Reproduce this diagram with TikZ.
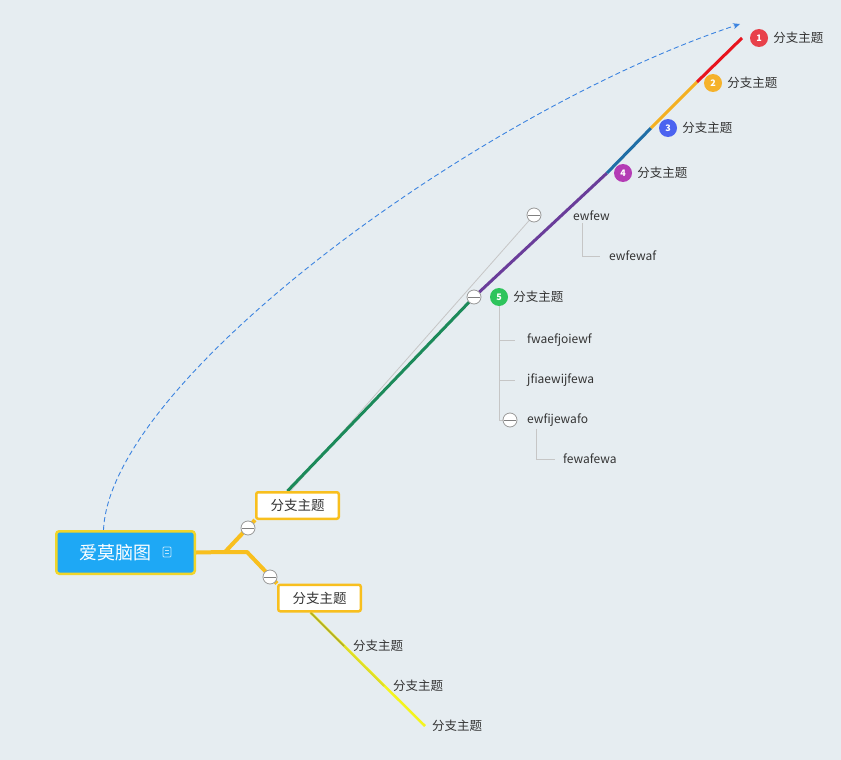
\documentclass[tikz,border=0pt]{standalone}
\usepackage{fontspec}
\setmainfont{Noto Sans CJK SC}
\usetikzlibrary{positioning,arrows.meta,backgrounds}
\definecolor{bgblue}{HTML}{E6EDF1}
\definecolor{rootfill}{HTML}{1EA8F5}
\definecolor{rootedge}{HTML}{F0D52A}
\definecolor{branchorange}{HTML}{F8BF1E}
\definecolor{textgray}{HTML}{333333}
\definecolor{linkblue}{HTML}{3C84E0}
\definecolor{badgered}{HTML}{E8414B}
\definecolor{badgeorange}{HTML}{F5B22B}
\definecolor{badgeblue}{HTML}{4B63F0}
\definecolor{badgepurple}{HTML}{B43CB5}
\definecolor{badgegreen}{HTML}{2EC45C}
\definecolor{spinered}{HTML}{E8141E}
\definecolor{spineorange}{HTML}{F4B021}
\definecolor{spineblue}{HTML}{1F6EA6}
\definecolor{spinepurple}{HTML}{6A3D9A}
\definecolor{spinegreen}{HTML}{1C8A5A}
\tikzset{
  rootbox/.style={rectangle, rounded corners=3pt, fill=rootfill, draw=rootedge, line width=2.5pt,
    text=white, minimum width=138.5pt, minimum height=42.5pt, inner sep=0pt,
    font=\fontsize{18}{18}\selectfont},
  topicbox/.style={rectangle, rounded corners=2pt, fill=white, draw=branchorange, line width=2.5pt,
    minimum width=82.5pt, minimum height=26.5pt, inner sep=0pt, text=textgray,
    font=\fontsize{13.5}{14}\selectfont},
  fold/.style={circle, draw=gray!80, fill=white, line width=0.8pt, minimum size=14pt, inner sep=0pt,
    path picture={\draw[gray, line width=0.8pt] ([xshift=-6pt]path picture bounding box.center)
      -- ([xshift=6pt]path picture bounding box.center);}},
  badge/.style={circle, fill=#1, text=white, minimum size=18pt, inner sep=0pt,
    font=\bfseries\fontsize{9}{9}\selectfont},
  leaf/.style={inner sep=2pt, text=textgray, font=\fontsize{12.5}{13}\selectfont},
  subleaf/.style={inner sep=2pt, text=textgray, font=\fontsize{12}{12}\selectfont},
  noteicon/.style={rectangle, draw=white!70!rootfill, line width=0.8pt, rounded corners=1pt,
    minimum width=8pt, minimum height=10pt, inner sep=0pt,
    path picture={\draw[white!70!rootfill, line width=0.6pt]
      ([xshift=-2pt,yshift=1.5pt]path picture bounding box.center) -- ([xshift=2pt,yshift=1.5pt]path picture bounding box.center)
      ([xshift=-2pt,yshift=-1pt]path picture bounding box.center) -- ([xshift=2pt,yshift=-1pt]path picture bounding box.center);}},
  trunk/.style={draw=branchorange, line width=4pt, line join=round},
  spine/.style={line width=3pt},
  twig/.style={draw=gray!45, line width=0.8pt},
  link/.style={draw=linkblue, line width=0.9pt, dash pattern=on 5pt off 3pt, -{Stealth[length=7pt,width=6pt]}}
}

\begin{document}
\begin{tikzpicture}[x=1pt, y=-1pt]
\useasboundingbox (0,0) rectangle (841,760);
% Root and first level
    \node[rootbox] (root) at (125.5,552.5) {爱莫脑图\rule{21pt}{0pt}};
    \node[noteicon] (note) at (167,552) {};
    \node[topicbox] (tA) at (297.5,505.5) {分支主题};
    \node[topicbox] (tB) at (319.5,598) {分支主题};
    \coordinate (j1) at (225,552);
    \coordinate (j2) at (247,552);
% Fold buttons
    \node[fold] (cA) at (248,528) {};
    \node[fold] (cB) at (270,577) {};
    \node[fold] (c5) at (474,297) {};
    \node[fold] (cew) at (534,215) {};
    \node[fold] (cfi) at (510,420) {};
% Numbered topics along the spine
    \node[badge=badgered] (b1) at (759,38) {1};
    \node[badge=badgeorange] (b2) at (713,83) {2};
    \node[badge=badgeblue] (b3) at (668,128) {3};
    \node[badge=badgepurple] (b4) at (623,173) {4};
    \node[badge=badgegreen] (b5) at (499,297) {5};
    \node[leaf, right=3pt of b1] (t1) {分支主题};
    \node[leaf, right=3pt of b2] (t2) {分支主题};
    \node[leaf, right=3pt of b3] (t3) {分支主题};
    \node[leaf, right=3pt of b4] (t4) {分支主题};
    \node[leaf, right=3pt of b5] (t5) {分支主题};
    \coordinate (k1) at (742,38);
    \coordinate (k2) at (697,82);
    \coordinate (k3) at (651,128);
    \coordinate (k4) at (607,173);
% Sub topics
    \node[subleaf, anchor=west] (ew1) at (571,216) {ewfew};
    \node[subleaf, anchor=west] (ew2) at (607,256) {ewfewaf};
    \node[subleaf, anchor=west] (f1) at (525,340) {fwaefjoiewf};
    \node[subleaf, anchor=west] (f2) at (525,380) {jfiaewijfewa};
    \node[subleaf, anchor=west] (f3) at (525,420) {ewfijewafo};
    \node[subleaf, anchor=west] (f4) at (561,459) {fewafewa};
% Lower branch children
    \node[leaf, anchor=west] (l1) at (351,646) {分支主题};
    \node[leaf, anchor=west] (l2) at (391,686) {分支主题};
    \node[leaf, anchor=west] (l3) at (430,726) {分支主题};
    \coordinate (target) at (740,24);
\begin{scope}[on background layer]
    \fill[bgblue] (0,0) rectangle (841,760);
% Branches from the root
    \draw[trunk] (root.east) -- (j1) -- (tA.south west);
    \draw[trunk] (j1) -- (j2) -- (tB.north west);
% Spine
    \draw[twig] ([xshift=-7pt]tA.north) -- (cew.center);
    \draw[spine, spinegreen] ([xshift=-10pt]tA.north) -- (c5.center);
    \draw[spine, spinepurple] (c5.center) -- (k4);
    \draw[spine, spineblue] (k4) -- (k3);
    \draw[spine, spineorange] (k3) -- (k2);
    \draw[spine, spinered] (k2) -- (k1);
% Sub topic connectors
    \draw[twig] ([xshift=11pt]ew1.south west) |- ([xshift=-7pt]ew2.west);
    \draw[twig] (b5.south) |- ([xshift=-10pt]f1.west);
    \draw[twig] (b5.south) |- ([xshift=-10pt]f2.west);
    \draw[twig] (b5.south) |- (cfi.west);
    \draw[twig] ([xshift=11pt]f3.south west) |- ([xshift=-6pt]f4.west);
% Lower children
    \draw[line width=2.5pt, draw={rgb,255:red,244;green,244;blue,30}] ([xshift=-9pt]tB.south) -- ([xshift=-5pt]l3.west);
    \draw[line width=1.8pt, draw={rgb,255:red,222;green,220;blue,40}] ([xshift=-9pt]tB.south) -- ([xshift=-7pt]l2.west);
    \draw[line width=1.2pt, draw={rgb,255:red,170;green,165;blue,45}] ([xshift=-9pt]tB.south) -- ([xshift=-7pt]l1.west);
% Link
    \draw[link] ([xshift=-22pt]root.north) .. controls (110,380) and (480,110) .. (target);
\end{scope}
\end{tikzpicture}
\end{document}
